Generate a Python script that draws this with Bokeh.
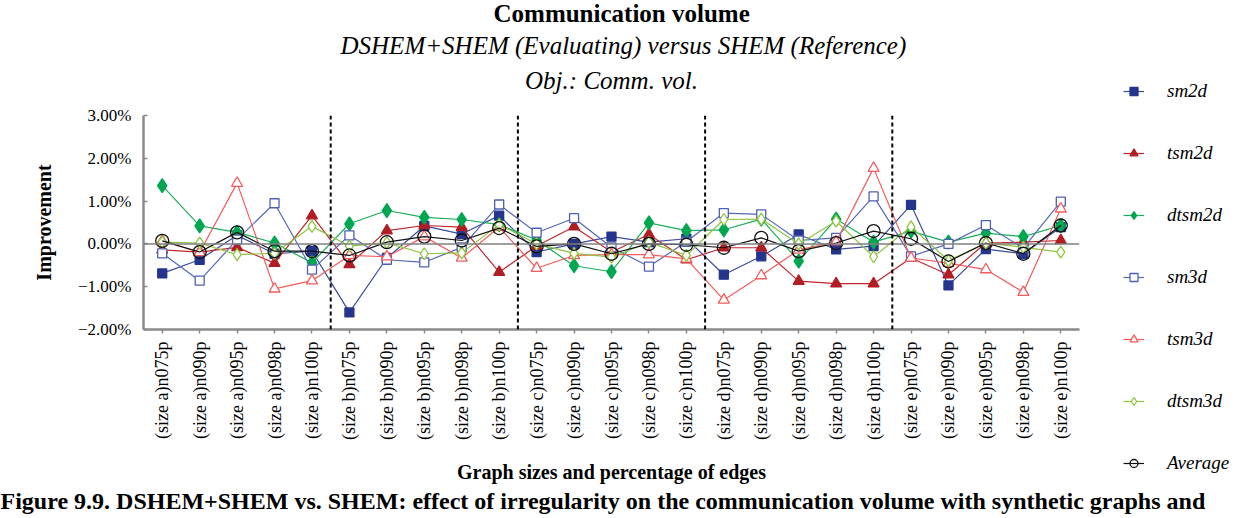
import math
from bokeh.plotting import figure
from bokeh.models import (FactorRange, Span, Legend, LegendItem, FixedTicker, Title,
                          CustomJSTickFormatter, ColumnDataSource)
from bokeh.embed import file_html
from bokeh.resources import INLINE

# ---------------- data ----------------
sizes = ["a", "b", "c", "d", "e"]
edges = ["n075p", "n090p", "n095p", "n098p", "n100p"]
categories = [f"(size {s}){e}" for s in sizes for e in edges]

sm2d = [-0.69, -0.37, 0.20, -0.23, -0.17,
        -1.60, -0.33, 0.42, 0.23, 0.66,
        -0.19, 0.00, 0.17, 0.04, 0.12,
        -0.72, -0.29, 0.22, -0.13, -0.05,
        0.91, -0.97, -0.12, -0.23, 0.39]
tsm2d = [-0.14, -0.19, -0.08, -0.45, 0.66,
         -0.48, 0.31, 0.43, 0.39, -0.66,
         -0.05, 0.40, -0.19, 0.22, -0.37,
         -0.09, -0.09, -0.87, -0.93, -0.93,
         -0.33, -0.72, 0.02, 0.04, 0.08]
dtsm2d = [1.36, 0.42, 0.27, 0.02, -0.44,
          0.47, 0.78, 0.62, 0.57, 0.45,
          0.09, -0.51, -0.65, 0.49, 0.31,
          0.33, 0.58, -0.40, 0.58, 0.04,
          0.30, 0.04, 0.25, 0.17, 0.43]
sm3d = [-0.22, -0.86, 0.10, 0.95, -0.60,
        0.20, -0.37, -0.43, -0.08, 0.92,
        0.26, 0.60, -0.08, -0.53, 0.05,
        0.72, 0.69, 0.08, 0.14, 1.11,
        -0.29, 0.00, 0.44, -0.10, 0.99]
tsm3d = [0.07, -0.20, 1.42, -1.05, -0.86,
         -0.27, -0.30, 0.17, -0.33, 0.39,
         -0.57, -0.27, -0.25, -0.25, -0.35,
         -1.31, -0.74, -0.14, 0.05, 1.77,
         -0.33, -0.45, -0.60, -1.13, 0.82]
dtsm3d = [0.04, 0.02, -0.25, -0.22, 0.41,
          -0.05, 0.03, -0.23, -0.21, 0.45,
          0.00, -0.22, -0.31, 0.04, -0.27,
          0.57, 0.58, 0.00, 0.53, -0.30,
          0.40, -0.39, 0.02, -0.08, -0.19]
average = [0.07, -0.19, 0.27, -0.17, -0.17,
           -0.27, 0.04, 0.17, 0.08, 0.37,
           -0.06, 0.00, -0.23, 0.00, -0.02,
           -0.09, 0.14, -0.17, 0.02, 0.30,
           0.12, -0.41, 0.02, -0.23, 0.43]

y_ticks = [-2, -1, 0, 1, 2, 3]

series = [
    # name, values, marker, line color, fill color, marker line color, size
    ("sm2d", sm2d, "square", "#3B4CA0", "#25358E", "#25358E", 9),
    ("tsm2d", tsm2d, "triangle", "#C0272D", "#B01E24", "#B01E24", 11),
    ("dtsm2d", dtsm2d, "diamond", "#1BAF5A", "#00A650", "#00A650", 14),
    ("sm3d", sm3d, "square", "#5567BA", "white", "#4D60B5", 9),
    ("tsm3d", tsm3d, "triangle", "#F25C5C", "white", "#F25C5C", 11),
    ("dtsm3d", dtsm3d, "diamond", "#8DC63F", "white", "#8DC63F", 12),
    ("Average", average, "circle", "#111111", None, "#111111", 13),
]

FONT = "Liberation Serif"

# ---------------- figure ----------------
FL, FT, FW, FH = 143, 115, 936, 214
W, H = 1250, 518

p = figure(frame_width=FW, frame_height=FH,
           x_range=FactorRange(*categories), y_range=(-2, 3),
           output_backend="svg", toolbar_location=None,
           min_border_left=FL, min_border_right=W - FL - FW,
           min_border_top=FT, min_border_bottom=H - FT - FH)
p.outline_line_color = None
p.xgrid.grid_line_color = None
p.ygrid.grid_line_color = None
p.background_fill_color = "white"
p.border_fill_color = "white"

# axes
p.yaxis.ticker = FixedTicker(ticks=y_ticks)
p.yaxis.formatter = CustomJSTickFormatter(
    code='return (tick < 0 ? "\u2212" : "") + Math.abs(tick).toFixed(2) + "%";')
for ax in (p.xaxis[0], p.yaxis[0]):
    ax.axis_line_color = "#8A8A8A"
    ax.axis_line_width = 2.5
    ax.major_tick_line_color = "#8A8A8A"
    ax.major_tick_line_width = 1.5
    ax.minor_tick_line_color = None
    ax.major_label_text_font = FONT
    ax.major_label_text_color = "black"
    ax.axis_label_text_font = FONT
    ax.axis_label_text_font_size = "20px"
    ax.axis_label_text_font_style = "bold"
    ax.axis_label_text_color = "black"
p.yaxis.major_label_text_font_size = "17px"
p.xaxis.major_label_text_font_size = "18px"
p.yaxis.major_tick_in = 4
p.yaxis.major_tick_out = 0
p.yaxis.major_label_standoff = 12
p.yaxis.axis_label = "Improvement"
p.yaxis.axis_label_standoff = 20
p.xaxis.major_tick_in = 0
p.xaxis.major_tick_out = 4
p.xaxis.major_label_orientation = math.pi / 2
p.xaxis.major_label_standoff = 8
p.xaxis.axis_label = "Graph sizes and percentage of edges"
p.xaxis.axis_label_standoff = 18

# zero line
p.add_layout(Span(location=0, dimension="width", line_color="#808080", line_width=1.5))

# group dividers (between size groups)
n_per = len(edges)
for k in range(1, len(sizes)):
    p.add_layout(Span(location=k * n_per, dimension="height", line_color="black",
                      line_width=2, line_dash="4 3"))

# series
items = []
for name, vals, marker, lc, fc, mlc, sz in series:
    src = ColumnDataSource(dict(x=categories, y=vals))
    r_line = p.line("x", "y", source=src, line_color=lc, line_width=1.2)
    r_pts = p.scatter("x", "y", source=src, marker=marker, size=sz,
                      fill_color=fc, line_color=mlc, line_width=1.3)
    items.append(LegendItem(label=name, renderers=[r_line, r_pts]))

legend = Legend(items=items, location=(44, -145), orientation="vertical",
                label_text_font=FONT, label_text_font_style="italic",
                label_text_font_size="19px", label_text_color="black",
                label_height=20, glyph_height=20, glyph_width=21,
                label_standoff=23, spacing=40, padding=0, margin=0,
                border_line_color=None, background_fill_alpha=0)
p.add_layout(legend, "right")

# ---------------- titles ----------------
def title(text, size, style, align="center", offset=0, standoff=0):
    return Title(text=text, align=align, offset=offset, standoff=standoff,
                 text_font=FONT, text_font_size=size, text_font_style=style,
                 text_color="black")

# thin spacer between the plot frame and the title block
p.add_layout(title(" ", "1px", "normal", standoff=25), "above")
p.add_layout(title("Obj.: Comm. vol.", "25px", "italic", standoff=-12), "above")
p.add_layout(title("DSHEM+SHEM (Evaluating) versus SHEM (Reference)", "25px", "italic",
                   align="left", offset=197, standoff=24), "above")
p.add_layout(title("Communication volume", "25px", "bold", align="left", offset=350,
                   standoff=-18), "above")

p.add_layout(title("Figure 9.9. DSHEM+SHEM vs. SHEM: effect of irregularity on the communication "
                   "volume with synthetic graphs and", "24px", "bold", align="left",
                   offset=-FL, standoff=0), "below")

open("out.html", "w").write(file_html(p, INLINE))
